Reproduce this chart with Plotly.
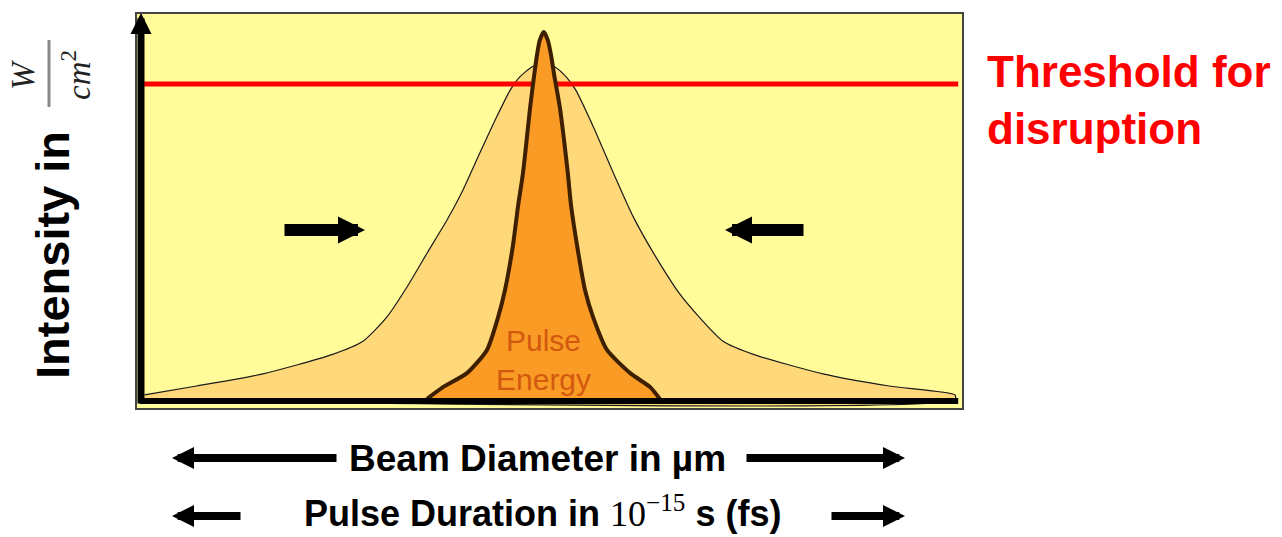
import plotly.graph_objects as go

# ---- data ----
# broad beam profile (long pulse / wide beam)
wide_x = [-49.8, -43.3, -35.0, -26.6, -22.5, -19.5, -17.0, -14.5, -12.0, -10.0, -7.9, -5.8, -4.1, -2.9, -1.4,
          0.0, 1.5, 2.9, 4.1, 6.3, 8.8, 11.3, 14.1, 17.0, 19.5, 22.5, 26.6, 35.0, 43.3, 51.5]
wide_y = [1.4, 3.8, 7.1, 12.2, 16.0, 22.6, 30.7, 39.9, 48.9, 57.1, 67.1, 76.9, 84.2, 87.8, 90.5,
          91.6, 90.5, 87.8, 84.2, 74.2, 61.7, 49.7, 38.9, 29.1, 22.6, 16.0, 12.2, 7.1, 3.8, 1.4]

# narrow, focused profile (short pulse)
narrow_x = [-14.5, -12.5, -9.5, -7.0, -5.6, -4.75, -3.75, -3.1, -2.5, -1.6, -1.1, -0.75, -0.4,
            0.1, 0.6, 1.0, 1.4, 2.1, 3.1, 3.5, 4.25, 5.25, 6.25, 8.0, 10.9, 13.4, 14.6]
narrow_y = [0.3, 3.5, 7.3, 13.6, 22.6, 29.9, 42.1, 53.0, 61.7, 79.6, 88.3, 93.8, 97.8,
            100.0, 97.8, 93.8, 88.3, 79.6, 61.7, 53.0, 42.1, 29.9, 22.6, 13.6, 7.3, 3.5, 0.3]

threshold = 85.9
x_span = [-50.4, 51.9]

x_range = [-50.75, 52.375]
y_range = [-2.17, 104.9]

FONT = "Liberation Sans, Arial, sans-serif"
MATH = "Liberation Serif, DejaVu Serif, serif"

fig = go.Figure()

fig.add_trace(go.Scatter(
    x=wide_x + [wide_x[-1], wide_x[0]], y=wide_y + [0, 0],
    fill="toself", fillcolor="#FFD87A", mode="lines",
    line=dict(color="#1a1a1a", width=1.2, shape="spline", smoothing=0.6),
    hoverinfo="skip", showlegend=False))

fig.add_trace(go.Scatter(
    x=x_span, y=[threshold, threshold], mode="lines",
    line=dict(color="#FF0000", width=5), hoverinfo="skip", showlegend=False))

fig.add_trace(go.Scatter(
    x=narrow_x, y=narrow_y,
    fill="toself", fillcolor="#F99B25", mode="lines",
    line=dict(color="#3E1F00", width=4, shape="spline", smoothing=0.6),
    hoverinfo="skip", showlegend=False))

fig.add_trace(go.Scatter(
    x=x_span, y=[-0.3, -0.3], mode="lines",
    line=dict(color="black", width=6), hoverinfo="skip", showlegend=False))

ann = []
# vertical axis arrow
ann.append(dict(x=-50.25, y=105.2, xref="x", yref="y", ax=-50.25, ay=-1.36, axref="x", ayref="y",
                text="", showarrow=True, arrowhead=2, arrowwidth=7, arrowsize=0.6, arrowcolor="black", standoff=0))
# inner arrows
ann.append(dict(x=-22.25, y=46.2, xref="x", yref="y", ax=-32.5, ay=46.2, axref="x", ayref="y",
                text="", showarrow=True, arrowhead=2, arrowwidth=12, arrowsize=0.45, arrowcolor="black", standoff=0))
ann.append(dict(x=22.75, y=46.2, xref="x", yref="y", ax=32.75, ay=46.2, axref="x", ayref="y",
                text="", showarrow=True, arrowhead=2, arrowwidth=12, arrowsize=0.45, arrowcolor="black", standoff=0))

# pulse energy label
ann.append(dict(x=0, y=10.9, xref="x", yref="y", showarrow=False, xanchor="center", yanchor="middle",
                text="Pulse<br>Energy", font=dict(family=FONT, size=30, color="#D2590E")))

# threshold label
ann.append(dict(x=(985 - 137) / 825, y=(408 - 45) / 394, xref="paper", yref="paper",
                xanchor="left", yanchor="top", align="left", showarrow=False,
                text="<b>Threshold for<br>disruption</b>", font=dict(family=FONT, size=44, color="#FF0000")))

# y title
ann.append(dict(x=(52 - 137) / 825, y=(408 - 255) / 394, xref="paper", yref="paper",
                xanchor="center", yanchor="middle", showarrow=False, textangle=-90,
                text="<b>Intensity in</b>", font=dict(family=FONT, size=47, color="black")))
ann.append(dict(x=(23 - 137) / 825, y=(408 - 75) / 394, xref="paper", yref="paper",
                xanchor="center", yanchor="middle", showarrow=False, textangle=-90,
                text="<i>W</i>", font=dict(family=MATH, size=33, color="#222222")))
ann.append(dict(x=(76 - 137) / 825, y=(408 - 75) / 394, xref="paper", yref="paper",
                xanchor="center", yanchor="middle", showarrow=False, textangle=-90,
                text="<i>cm</i><sup>2</sup>", font=dict(family=MATH, size=33, color="#222222")))

# bottom labels
ann.append(dict(x=(537 - 137) / 825, y=(408 - 458) / 394, xref="paper", yref="paper",
                xanchor="center", yanchor="middle", showarrow=False, text="<b>Beam Diameter in µm</b>",
                font=dict(family=FONT, size=37, color="black")))
ann.append(dict(x=(542 - 137) / 825, y=(408 - 512) / 394, xref="paper", yref="paper",
                xanchor="center", yanchor="middle", showarrow=False,
                text="<b>Pulse Duration in </b><span style='font-family:Liberation Serif, DejaVu Serif, serif'>10<sup>−15</sup></span><b> s (fs)</b>",
                font=dict(family=FONT, size=36, color="black")))

def harrow(tip_px, tail_px, y_px):
    return dict(x=(tip_px - 137) / 825, y=(408 - y_px) / 394, xref="paper", yref="paper",
                ax=tail_px - tip_px, ay=0, text="", showarrow=True, arrowhead=2,
                arrowwidth=8, arrowsize=0.55, arrowcolor="black", standoff=0)

ann += [harrow(172, 338, 458), harrow(905, 745, 458), harrow(172, 242, 516), harrow(905, 830, 516)]

shapes = [dict(type="line", xref="paper", yref="paper",
               x0=(49 - 137) / 825, x1=(49 - 137) / 825, y0=(408 - 40) / 394, y1=(408 - 107) / 394,
               line=dict(color="#8a8a8a", width=3))]

fig.update_layout(
    width=1282, height=537,
    margin=dict(l=137, r=320, t=14, b=129),
    paper_bgcolor="white", plot_bgcolor="#FFFC99",
    xaxis=dict(range=x_range, visible=True, showgrid=False, zeroline=False, showticklabels=False,
               ticks="", showline=True, mirror=True, linecolor="#444444", linewidth=1.5, fixedrange=True),
    yaxis=dict(range=y_range, visible=True, showgrid=False, zeroline=False, showticklabels=False,
               ticks="", showline=True, mirror=True, linecolor="#444444", linewidth=1.5, fixedrange=True),
    annotations=ann, shapes=shapes,
)

fig.write_html("out.html", config={"displayModeBar": False},
               post_script="document.body.style.margin='0px';")
